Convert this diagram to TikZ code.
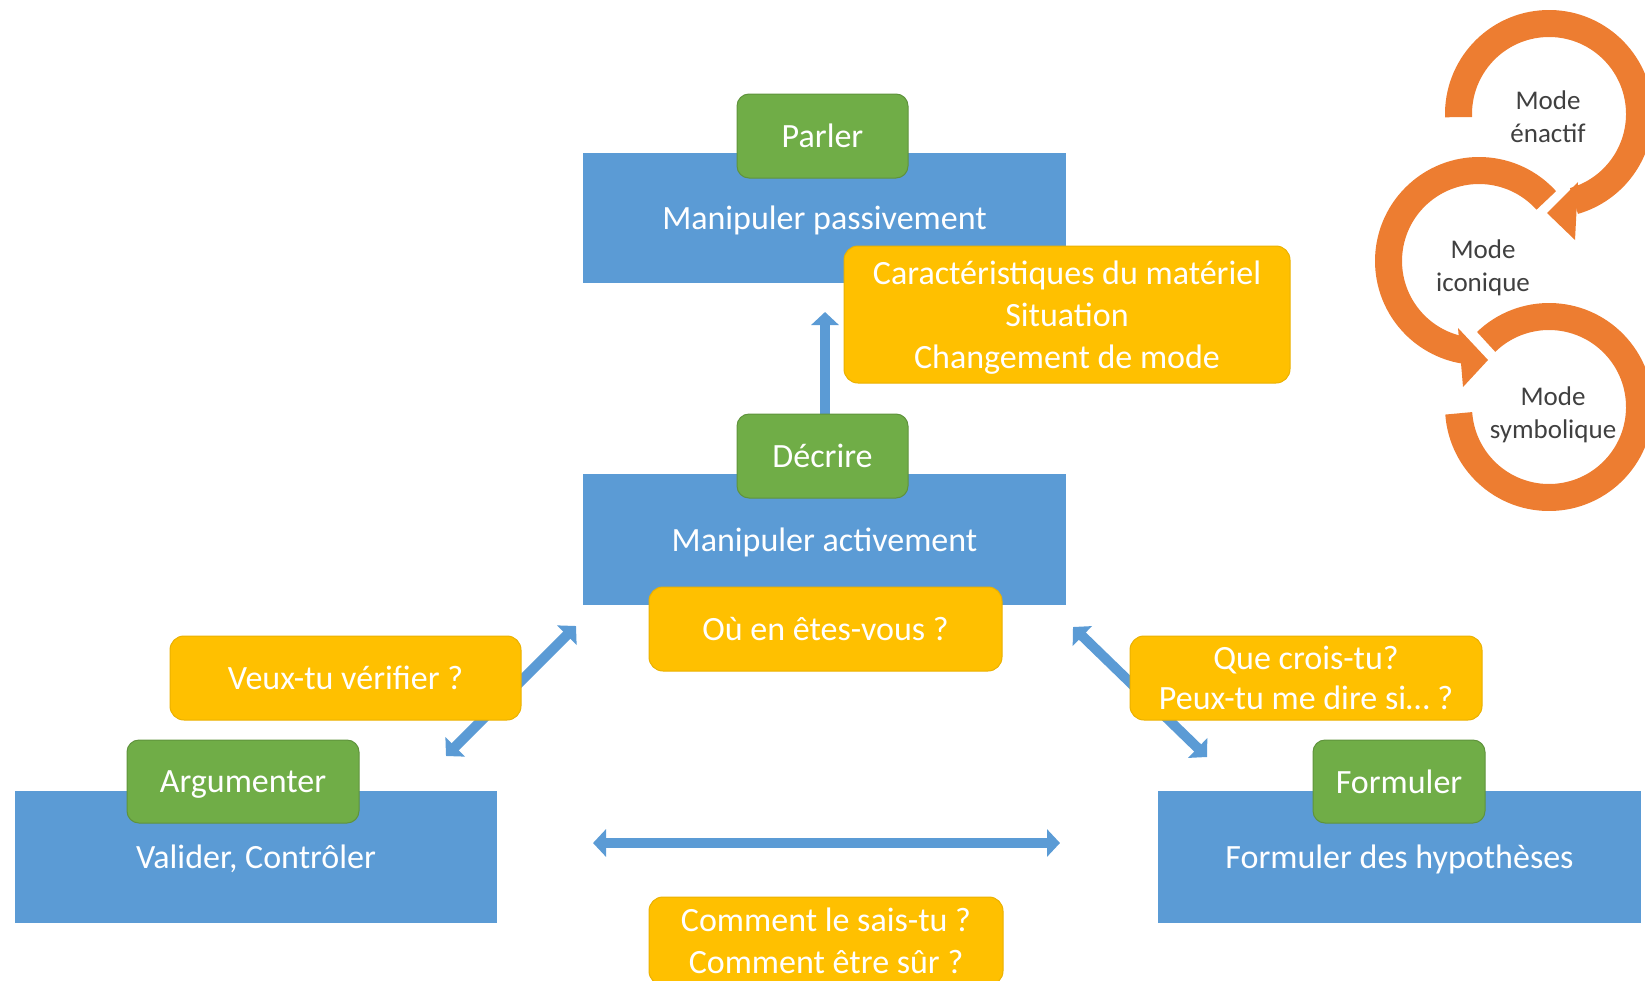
\documentclass[tikz,border=0pt]{standalone}
\usepackage{fontspec}
\setmainfont{Carlito}
\usetikzlibrary{arrows.meta}
\definecolor{bleu}{HTML}{5B9BD5}
\definecolor{vert}{HTML}{70AD47}
\definecolor{jaune}{HTML}{FFC000}
\definecolor{orangeb}{HTML}{ED7D31}
\definecolor{gristxt}{HTML}{404040}
\newcommand{\fsmain}{\fontsize{34}{42}\selectfont}
\newcommand{\fscirc}{\fontsize{27}{33}\selectfont}
\begin{document}
\begin{tikzpicture}[x=1pt,y=-1pt,
  bluebox/.style={fill=bleu, draw=none, inner sep=0pt, text=white, font=\fsmain, align=center, text depth=0pt},
  greenbox/.style={fill=vert, draw=vert!85!black, line width=1pt, rounded corners=12pt, inner sep=0pt, text=white, font=\fsmain, align=center, text depth=0pt},
  yellowbox/.style={fill=jaune, draw=jaune!92!black, line width=1pt, rounded corners=14pt, inner sep=0pt, text=white, font=\fsmain, align=center, text depth=0pt},
  dblarr/.style={draw=bleu, line width=10pt, {Triangle[width=27pt,length=13pt]}-{Triangle[width=27pt,length=13pt]}},
  onearr/.style={draw=bleu, line width=10pt, -{Triangle[width=27pt,length=13pt]}},
  ring/.style={draw=orangeb, line width=27pt},
  ringhead/.style={fill=orangeb, draw=none},
  circtext/.style={text=gristxt, font=\fscirc, align=center, inner sep=0pt}]
\useasboundingbox (0,0) rectangle (1645,980);

% blue boxes
\node[bluebox, minimum width=483pt, minimum height=130pt] (passif) at (824.5,218) {Manipuler passivement};
\node[bluebox, minimum width=483pt, minimum height=131pt] (actif) at (824.5,539.5) {Manipuler activement};
\node[bluebox, minimum width=482pt, minimum height=132pt] (valider) at (256,857) {Valider, Contrôler};
\node[bluebox, minimum width=483pt, minimum height=132pt] (hypo) at (1399.5,857) {Formuler des hypothèses};

% arrows
\coordinate (upA) at (825,414);
\coordinate (upB) at (825,312);
\coordinate (lA) at (576,626);
\coordinate (lB) at (446,756);
\coordinate (rA) at (1073,627);
\coordinate (rB) at (1207,757);
\coordinate (hA) at (593,843);
\coordinate (hB) at (1060,843);
\draw[onearr] (upA) -- (upB);
\draw[dblarr] (lA) -- (lB);
\draw[dblarr] (rA) -- (rB);
\draw[dblarr] (hA) -- (hB);

% yellow boxes
\node[yellowbox, minimum width=446pt, minimum height=137pt] (carac) at (1067,314.5) {Caractéristiques du matériel\\Situation\\Changement de mode};
\node[yellowbox, minimum width=353pt, minimum height=84pt] (ou) at (825.5,629) {Où en êtes-vous ?};
\node[yellowbox, minimum width=351pt, minimum height=84pt] (veux) at (345.5,678) {Veux-tu vérifier ?};
\node[yellowbox, minimum width=352pt, minimum height=84pt, font=\fontsize{34}{40}\selectfont] (que) at (1306,678) {Que crois-tu?\\Peux-tu me dire si\ldots{} ?};
\node[yellowbox, minimum width=354pt, minimum height=88pt] (comment) at (826,941) {Comment le sais-tu ?\\Comment être sûr ?};

% green boxes
\node[greenbox, minimum width=171pt, minimum height=84pt] (parler) at (822.5,136) {Parler};
\node[greenbox, minimum width=171pt, minimum height=84pt] (decrire) at (822.5,456) {Décrire};
\node[greenbox, minimum width=232pt, minimum height=83pt] (argu) at (243,781.5) {Argumenter};
\node[greenbox, minimum width=172pt, minimum height=83pt] (formu) at (1399,781.5) {Formuler};

% circular arrows
\coordinate (c1) at (1549,114);
\coordinate (c2) at (1479,261);
\coordinate (c3) at (1549,407);
\draw[ring] (c1) ++(178:90.5) arc[start angle=178, end angle=434, radius=90.5];
\fill[ringhead] (1578,182) -- (1575,240) -- (1547,213) -- cycle;
\draw[ring] (c2) ++(-42:90.5) arc[start angle=-42, end angle=-260, radius=90.5];
\fill[ringhead] (1458,328) -- (1463,387) -- (1488,360) -- cycle;
\draw[ring] (c3) ++(-134:90.5) arc[start angle=-134, end angle=176, radius=90.5];

\node[circtext] (t1) at (1548,117) {Mode\\énactif};
\node[circtext] (t2) at (1483,268) {Mode\\iconique};
\node[circtext] (t3) at (1553,415) {Mode\\symbolique};
\end{tikzpicture}
\end{document}
